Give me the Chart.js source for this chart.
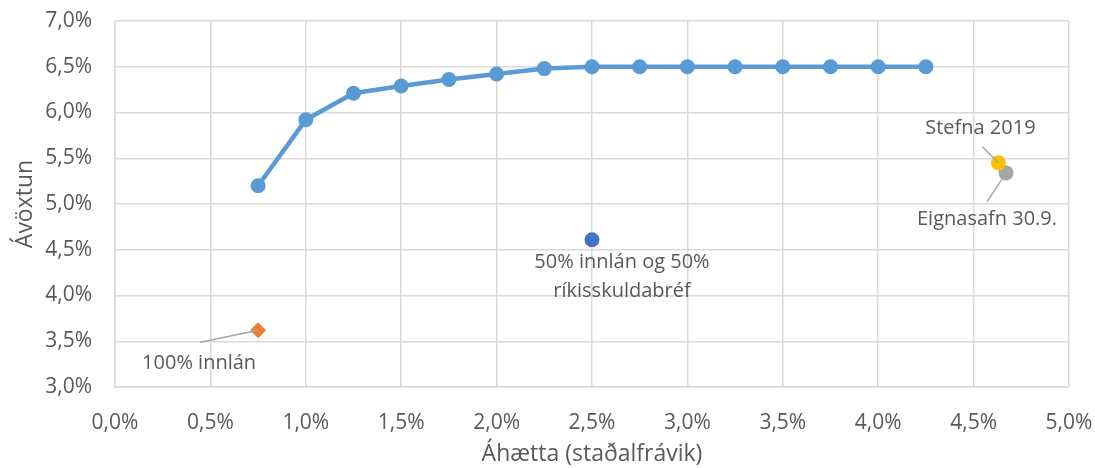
<!DOCTYPE html>
<html><head><meta charset="utf-8">
<script src="https://cdn.jsdelivr.net/npm/chart.js@4.4.0/dist/chart.umd.min.js"></script>
<style>html,body{margin:0;padding:0;background:#fff}#wrap{width:1095px;height:468px}</style>
</head><body><div id="wrap"><canvas id="c" width="1095" height="468"></canvas></div>
<script>
const frontierRisk = [0.75,1.0,1.25,1.5,1.75,2.0,2.25,2.5,2.75,3.0,3.25,3.5,3.75,4.0,4.25];
const frontierReturn = [5.20,5.92,6.21,6.29,6.36,6.42,6.48,6.50,6.50,6.50,6.50,6.50,6.50,6.50,6.50];
const pointNames = ["100% innlán","50% innlán og 50% ríkisskuldabréf","Stefna 2019","Eignasafn 30.9."];
const pointRisk = [0.75,2.5,4.63,4.67];
const pointReturn = [3.62,4.61,5.45,5.34];
const xTitle = "Áhætta (staðalfrávik)";
const yTitle = "Ávöxtun";

const FONT = "'Open Sans', sans-serif";
const TXT = "#595959";
const fmt = v => v.toFixed(1).replace('.', ',') + '%';

const labelPlugin = {
  id: 'labels',
  afterDatasetsDraw(chart) {
    const ctx = chart.ctx, xs = chart.scales.x, ys = chart.scales.y;
    const P = i => [xs.getPixelForValue(pointRisk[i]), ys.getPixelForValue(pointReturn[i])];
    ctx.save();
    ctx.strokeStyle = '#a6a6a6'; ctx.lineWidth = 1.5;
    ctx.fillStyle = TXT; ctx.font = "20px " + FONT;
    ctx.textAlign = 'center'; ctx.textBaseline = 'middle';
    const line = (x1,y1,x2,y2)=>{ctx.beginPath();ctx.moveTo(x1,y1);ctx.lineTo(x2,y2);ctx.stroke();};
    let [x,y] = P(0);
    line(x,y,x-58,y+12);
    ctx.fillText(pointNames[0], x-59, y+33);
    [x,y] = P(1);
    ctx.fillText("50% innlán og 50%", x+30, y+23);
    ctx.fillText("ríkisskuldabréf", x+30, y+52);
    [x,y] = P(2);
    line(x,y,x-16,y-16);
    ctx.fillText(pointNames[2], x-18, y-35);
    [x,y] = P(3);
    line(x-4,y+6,x-19,y+29);
    ctx.fillText(pointNames[3], x-19, y+46);
    ctx.restore();
  }
};

new Chart(document.getElementById('c'), {
  type: 'scatter',
  data: {
    datasets: [
      { data: frontierRisk.map((v,i)=>({x:v,y:frontierReturn[i]})), showLine:true,
        borderColor:'#5B9BD5', backgroundColor:'#5B9BD5', borderWidth:4.5, pointRadius:7.5, pointBorderWidth:0, pointHoverRadius:7.5 },
      { data:[{x:pointRisk[0],y:pointReturn[0]}], pointStyle:'rectRot', pointRadius:8, pointBorderWidth:0, backgroundColor:'#ED7D31', borderColor:'#ED7D31' },
      { data:[{x:pointRisk[1],y:pointReturn[1]}], pointRadius:7.5, pointBorderWidth:0, backgroundColor:'#4472C4', borderColor:'#4472C4' },
      { data:[{x:pointRisk[2],y:pointReturn[2]}], pointRadius:7.5, pointBorderWidth:0, backgroundColor:'#FFC000', borderColor:'#FFC000' },
      { data:[{x:pointRisk[3],y:pointReturn[3]}], pointRadius:7.5, pointBorderWidth:0, backgroundColor:'#A5A5A5', borderColor:'#A5A5A5' }
    ]
  },
  options: {
    responsive:false, animation:false,
    layout:{padding:{top:21,right:26,left:0,bottom:0}},
    plugins:{legend:{display:false}, tooltip:{enabled:false}},
    scales:{
      x:{ type:'linear', min:0, max:5,
        ticks:{stepSize:0.5, callback:v=>fmt(v), color:TXT, font:{family:FONT,size:21}, padding:23, maxRotation:0},
        grid:{color:'#d9d9d9', lineWidth:1.5, drawTicks:false},
        border:{color:'#d9d9d9', width:1.5},
        title:{display:true, text:xTitle, color:TXT, font:{family:FONT,size:23}, padding:{top:0,bottom:0}},
        afterFit(s){ s.height = 81; s.paddingLeft = 0; s.paddingRight = 0; }
      },
      y:{ min:3, max:7,
        ticks:{stepSize:0.5, callback:v=>fmt(v), color:TXT, font:{family:FONT,size:21}, padding:23},
        grid:{color:'#d9d9d9', lineWidth:1.5, drawTicks:false},
        border:{color:'#d9d9d9', width:1.5},
        title:{display:true, text:yTitle, color:TXT, font:{family:FONT,size:23}, padding:{top:12,bottom:0}},
        afterFit(s){ s.width = 115; s.paddingTop = 0; s.paddingBottom = 0; }
      }
    }
  },
  plugins:[labelPlugin]
});
</script></body></html>
